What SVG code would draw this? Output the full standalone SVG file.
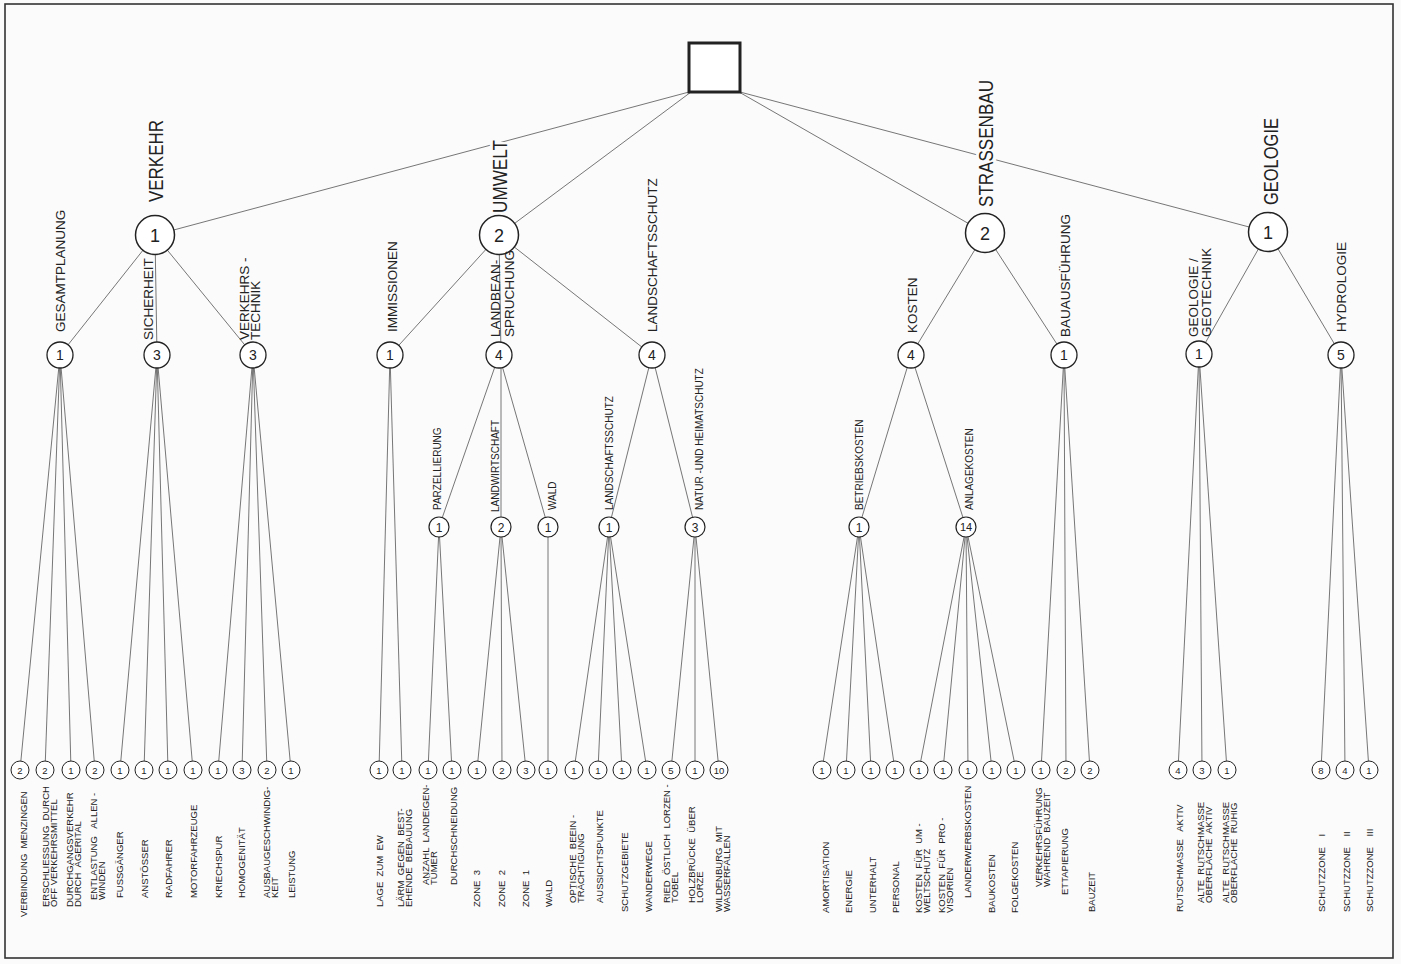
<svg xmlns="http://www.w3.org/2000/svg" width="1401" height="964" viewBox="0 0 1401 964">
<style>
.bg{fill:#fbfbfb}
.frame{fill:none;stroke:#333;stroke-width:1.6}
.root{fill:#fff;stroke:#222;stroke-width:3}
.ln{stroke:#666;stroke-width:0.9;fill:none}
.c1{fill:#fff;stroke:#222;stroke-width:1.5}
.c2{fill:#fff;stroke:#222;stroke-width:1.3}
.c3{fill:#fff;stroke:#222;stroke-width:1.2}
.c4{fill:#fff;stroke:#222;stroke-width:1}
text{font-family:"Liberation Sans",Arial,sans-serif;fill:#222}
.n1{font-size:18px;text-anchor:middle}
.n2{font-size:14px;text-anchor:middle}
.n3{font-size:12px;text-anchor:middle}
.n4{font-size:9.5px;text-anchor:middle}
.t1{font-size:21px;stroke:#fbfbfb;stroke-width:6;paint-order:stroke}
.t2{font-size:13.5px}
.t3{font-size:10px}
.t4{font-size:9.5px;white-space:pre}
</style>
<rect class="bg" x="0" y="0" width="1401" height="964"/>
<rect class="frame" x="5" y="4" width="1388" height="954"/>
<g id="connectors">
<line class="ln" x1="689" y1="92" x2="155" y2="235"/>
<line class="ln" x1="691" y1="92" x2="499" y2="235"/>
<line class="ln" x1="739" y1="92" x2="985" y2="233"/>
<line class="ln" x1="740" y1="92" x2="1268" y2="232"/>
<line class="ln" x1="155" y1="235" x2="60" y2="355"/>
<line class="ln" x1="155" y1="235" x2="157" y2="355"/>
<line class="ln" x1="155" y1="235" x2="253" y2="355"/>
<line class="ln" x1="499" y1="235" x2="390" y2="355"/>
<line class="ln" x1="499" y1="235" x2="501" y2="355"/>
<line class="ln" x1="499" y1="235" x2="652" y2="355"/>
<line class="ln" x1="985" y1="233" x2="911" y2="355"/>
<line class="ln" x1="985" y1="233" x2="1064" y2="355"/>
<line class="ln" x1="1268" y1="232" x2="1199" y2="354"/>
<line class="ln" x1="1268" y1="232" x2="1341" y2="355"/>
<line class="ln" x1="499" y1="355" x2="439" y2="527"/>
<line class="ln" x1="501" y1="355" x2="501" y2="527"/>
<line class="ln" x1="499" y1="355" x2="548" y2="527"/>
<line class="ln" x1="652" y1="355" x2="609" y2="527"/>
<line class="ln" x1="652" y1="355" x2="695" y2="527"/>
<line class="ln" x1="911" y1="355" x2="859" y2="527"/>
<line class="ln" x1="911" y1="355" x2="966" y2="527"/>
<line class="ln" x1="60" y1="355" x2="20" y2="770"/>
<line class="ln" x1="60" y1="355" x2="45" y2="770"/>
<line class="ln" x1="60" y1="355" x2="71" y2="770"/>
<line class="ln" x1="60" y1="355" x2="95" y2="770"/>
<line class="ln" x1="157" y1="355" x2="120" y2="770"/>
<line class="ln" x1="157" y1="355" x2="144" y2="770"/>
<line class="ln" x1="157" y1="355" x2="168" y2="770"/>
<line class="ln" x1="157" y1="355" x2="193" y2="770"/>
<line class="ln" x1="253" y1="355" x2="218" y2="770"/>
<line class="ln" x1="253" y1="355" x2="242" y2="770"/>
<line class="ln" x1="253" y1="355" x2="267" y2="770"/>
<line class="ln" x1="253" y1="355" x2="291" y2="770"/>
<line class="ln" x1="390" y1="355" x2="379" y2="770"/>
<line class="ln" x1="390" y1="355" x2="402" y2="770"/>
<line class="ln" x1="439" y1="527" x2="428" y2="770"/>
<line class="ln" x1="439" y1="527" x2="452" y2="770"/>
<line class="ln" x1="501" y1="527" x2="477" y2="770"/>
<line class="ln" x1="501" y1="527" x2="502" y2="770"/>
<line class="ln" x1="501" y1="527" x2="526" y2="770"/>
<line class="ln" x1="548" y1="527" x2="548" y2="770"/>
<line class="ln" x1="609" y1="527" x2="574" y2="770"/>
<line class="ln" x1="609" y1="527" x2="598" y2="770"/>
<line class="ln" x1="609" y1="527" x2="622" y2="770"/>
<line class="ln" x1="609" y1="527" x2="647" y2="770"/>
<line class="ln" x1="695" y1="527" x2="671" y2="770"/>
<line class="ln" x1="695" y1="527" x2="695" y2="770"/>
<line class="ln" x1="695" y1="527" x2="719" y2="770"/>
<line class="ln" x1="859" y1="527" x2="822" y2="770"/>
<line class="ln" x1="859" y1="527" x2="846" y2="770"/>
<line class="ln" x1="859" y1="527" x2="871" y2="770"/>
<line class="ln" x1="859" y1="527" x2="895" y2="770"/>
<line class="ln" x1="966" y1="527" x2="919" y2="770"/>
<line class="ln" x1="966" y1="527" x2="943" y2="770"/>
<line class="ln" x1="966" y1="527" x2="968" y2="770"/>
<line class="ln" x1="966" y1="527" x2="992" y2="770"/>
<line class="ln" x1="966" y1="527" x2="1016" y2="770"/>
<line class="ln" x1="1064" y1="355" x2="1041" y2="770"/>
<line class="ln" x1="1064" y1="355" x2="1066" y2="770"/>
<line class="ln" x1="1064" y1="355" x2="1090" y2="770"/>
<line class="ln" x1="1199" y1="354" x2="1178" y2="770"/>
<line class="ln" x1="1199" y1="354" x2="1202" y2="770"/>
<line class="ln" x1="1199" y1="354" x2="1227" y2="770"/>
<line class="ln" x1="1341" y1="355" x2="1321" y2="770"/>
<line class="ln" x1="1341" y1="355" x2="1345" y2="770"/>
<line class="ln" x1="1341" y1="355" x2="1369" y2="770"/>
</g>
<g id="root"><rect class="root" x="689" y="43" width="51" height="49"/></g>
<g id="verkehr"><circle class="c1" cx="155" cy="235" r="19.5"/><text class="n1" x="155" y="241.5">1</text><text class="t1" transform="translate(163,202) rotate(-90)" textLength="82" lengthAdjust="spacingAndGlyphs">VERKEHR</text></g>
<g id="umwelt"><text class="t1" transform="translate(507,213) rotate(-90)" textLength="73" lengthAdjust="spacingAndGlyphs">UMWELT</text><circle class="c1" cx="499" cy="235" r="19.5"/><text class="n1" x="499" y="241.5">2</text></g>
<g id="strassenbau"><text class="t1" transform="translate(993,207) rotate(-90)" textLength="127" lengthAdjust="spacingAndGlyphs">STRASSENBAU</text><circle class="c1" cx="985" cy="233" r="19.5"/><text class="n1" x="985" y="239.5">2</text></g>
<g id="geologie"><text class="t1" transform="translate(1278,205) rotate(-90)" textLength="87" lengthAdjust="spacingAndGlyphs">GEOLOGIE</text><circle class="c1" cx="1268" cy="232" r="19.5"/><text class="n1" x="1268" y="238.5">1</text></g>
<g id="gesamtplanung"><circle class="c2" cx="60" cy="355" r="13"/><text class="n2" x="60" y="360">1</text><text class="t2" transform="translate(65,332) rotate(-90)">GESAMTPLANUNG</text></g>
<g id="sicherheit"><circle class="c2" cx="157" cy="355" r="13"/><text class="n2" x="157" y="360">3</text><text class="t2" transform="translate(153,340) rotate(-90)">SICHERHEIT</text></g>
<g id="verkehrstechnik"><circle class="c2" cx="253" cy="355" r="13"/><text class="n2" x="253" y="360">3</text><text class="t2" transform="translate(249,340) rotate(-90)">VERKEHRS -<tspan x="0" dy="10.5">TECHNIK</tspan></text></g>
<g id="immissionen"><circle class="c2" cx="390" cy="355" r="13"/><text class="n2" x="390" y="360">1</text><text class="t2" transform="translate(397,332) rotate(-90)">IMMISSIONEN</text></g>
<g id="landbeanspruchung"><circle class="c2" cx="499" cy="355" r="13"/><text class="n2" x="499" y="360">4</text><text class="t2" transform="translate(499.5,337) rotate(-90)">LANDBEAN-<tspan x="0" dy="14">SPRUCHUNG</tspan></text></g>
<g id="landschaftsschutz"><circle class="c2" cx="652" cy="355" r="13"/><text class="n2" x="652" y="360">4</text><text class="t2" transform="translate(657,332) rotate(-90)">LANDSCHAFTSSCHUTZ</text></g>
<g id="kosten"><circle class="c2" cx="911" cy="355" r="13"/><text class="n2" x="911" y="360">4</text><text class="t2" transform="translate(917,333) rotate(-90)">KOSTEN</text></g>
<g id="bauausfuehrung"><circle class="c2" cx="1064" cy="355" r="13"/><text class="n2" x="1064" y="360">1</text><text class="t2" transform="translate(1070,337) rotate(-90)">BAUAUSFÜHRUNG</text></g>
<g id="geotechnik"><circle class="c2" cx="1199" cy="354" r="13"/><text class="n2" x="1199" y="359">1</text><text class="t2" transform="translate(1198,337) rotate(-90)">GEOLOGIE /<tspan x="0" dy="12.5">GEOTECHNIK</tspan></text></g>
<g id="hydrologie"><circle class="c2" cx="1341" cy="355" r="13"/><text class="n2" x="1341" y="360">5</text><text class="t2" transform="translate(1346,332) rotate(-90)">HYDROLOGIE</text></g>
<g id="parzellierung"><circle class="c3" cx="439" cy="527" r="10"/><text class="n3" x="439" y="531.5">1</text><text class="t3" transform="translate(441,510) rotate(-90)">PARZELLIERUNG</text></g>
<g id="landwirtschaft"><circle class="c3" cx="501" cy="527" r="10"/><text class="n3" x="501" y="531.5">2</text><text class="t3" transform="translate(499,512) rotate(-90)">LANDWIRTSCHAFT</text></g>
<g id="wald"><circle class="c3" cx="548" cy="527" r="10"/><text class="n3" x="548" y="531.5">1</text><text class="t3" transform="translate(556,510) rotate(-90)">WALD</text></g>
<g id="landschaftsschutz2"><circle class="c3" cx="609" cy="527" r="10"/><text class="n3" x="609" y="531.5">1</text><text class="t3" transform="translate(613,510) rotate(-90)">LANDSCHAFTSSCHUTZ</text></g>
<g id="naturschutz"><circle class="c3" cx="695" cy="527" r="10"/><text class="n3" x="695" y="531.5">3</text><text class="t3" transform="translate(703,510) rotate(-90)">NATUR -UND  HEIMATSCHUTZ</text></g>
<g id="betriebskosten"><circle class="c3" cx="859" cy="527" r="10"/><text class="n3" x="859" y="531.5">1</text><text class="t3" transform="translate(863,510) rotate(-90)">BETRIEBSKOSTEN</text></g>
<g id="anlagekosten"><circle class="c3" cx="966" cy="527" r="10"/><text class="n3" x="966" y="531" style="font-size:11px">14</text><text class="t3" transform="translate(973,510) rotate(-90)">ANLAGEKOSTEN</text></g>
<g id="leaf1"><circle class="c4" cx="20" cy="770" r="9"/><text class="n4" x="20" y="773.5">2</text><text class="t4" transform="translate(27,917) rotate(-90)">VERBINDUNG  MENZINGEN</text></g>
<g id="leaf2"><circle class="c4" cx="45" cy="770" r="9"/><text class="n4" x="45" y="773.5">2</text><text class="t4" transform="translate(49,907) rotate(-90)">ERSCHLIESSUNG  DURCH<tspan x="0" dy="8">ÖFF VERKEHRSMITTEL</tspan></text></g>
<g id="leaf3"><circle class="c4" cx="71" cy="770" r="9"/><text class="n4" x="71" y="773.5">1</text><text class="t4" transform="translate(73,907) rotate(-90)">DURCHGANGSVERKEHR<tspan x="0" dy="8">DURCH  ÄGERITAL</tspan></text></g>
<g id="leaf4"><circle class="c4" cx="95" cy="770" r="9"/><text class="n4" x="95" y="773.5">2</text><text class="t4" transform="translate(97,900) rotate(-90)">ENTLASTUNG   ALLEN -<tspan x="0" dy="8">WINDEN</tspan></text></g>
<g id="leaf5"><circle class="c4" cx="120" cy="770" r="9"/><text class="n4" x="120" y="773.5">1</text><text class="t4" transform="translate(123,898) rotate(-90)">FUSSGÄNGER</text></g>
<g id="leaf6"><circle class="c4" cx="144" cy="770" r="9"/><text class="n4" x="144" y="773.5">1</text><text class="t4" transform="translate(148,898) rotate(-90)">ANSTÖSSER</text></g>
<g id="leaf7"><circle class="c4" cx="168" cy="770" r="9"/><text class="n4" x="168" y="773.5">1</text><text class="t4" transform="translate(172,898) rotate(-90)">RADFAHRER</text></g>
<g id="leaf8"><circle class="c4" cx="193" cy="770" r="9"/><text class="n4" x="193" y="773.5">1</text><text class="t4" transform="translate(197,898) rotate(-90)">MOTORFAHRZEUGE</text></g>
<g id="leaf9"><circle class="c4" cx="218" cy="770" r="9"/><text class="n4" x="218" y="773.5">1</text><text class="t4" transform="translate(222,898) rotate(-90)">KRIECHSPUR</text></g>
<g id="leaf10"><circle class="c4" cx="242" cy="770" r="9"/><text class="n4" x="242" y="773.5">3</text><text class="t4" transform="translate(245,898) rotate(-90)">HOMOGENITÄT</text></g>
<g id="leaf11"><circle class="c4" cx="267" cy="770" r="9"/><text class="n4" x="267" y="773.5">2</text><text class="t4" transform="translate(270,898) rotate(-90)">AUSBAUGESCHWINDIG-<tspan x="0" dy="8">KEIT</tspan></text></g>
<g id="leaf12"><circle class="c4" cx="291" cy="770" r="9"/><text class="n4" x="291" y="773.5">1</text><text class="t4" transform="translate(295,898) rotate(-90)">LEISTUNG</text></g>
<g id="leaf13"><circle class="c4" cx="379" cy="770" r="9"/><text class="n4" x="379" y="773.5">1</text><text class="t4" transform="translate(383,907) rotate(-90)">LAGE  ZUM  EW</text></g>
<g id="leaf14"><circle class="c4" cx="402" cy="770" r="9"/><text class="n4" x="402" y="773.5">1</text><text class="t4" transform="translate(404,907) rotate(-90)">LÄRM  GEGEN  BEST-<tspan x="0" dy="8">EHENDE  BEBAUUNG</tspan></text></g>
<g id="leaf15"><circle class="c4" cx="428" cy="770" r="9"/><text class="n4" x="428" y="773.5">1</text><text class="t4" transform="translate(429,885) rotate(-90)">ANZAHL  LANDEIGEN-<tspan x="0" dy="8">TÜMER</tspan></text></g>
<g id="leaf16"><circle class="c4" cx="452" cy="770" r="9"/><text class="n4" x="452" y="773.5">1</text><text class="t4" transform="translate(457,885) rotate(-90)">DURCHSCHNEIDUNG</text></g>
<g id="leaf17"><circle class="c4" cx="477" cy="770" r="9"/><text class="n4" x="477" y="773.5">1</text><text class="t4" transform="translate(480,907) rotate(-90)">ZONE  3</text></g>
<g id="leaf18"><circle class="c4" cx="502" cy="770" r="9"/><text class="n4" x="502" y="773.5">2</text><text class="t4" transform="translate(505,907) rotate(-90)">ZONE  2</text></g>
<g id="leaf19"><circle class="c4" cx="526" cy="770" r="9"/><text class="n4" x="526" y="773.5">3</text><text class="t4" transform="translate(529,907) rotate(-90)">ZONE  1</text></g>
<g id="leaf20"><circle class="c4" cx="548" cy="770" r="9"/><text class="n4" x="548" y="773.5">1</text><text class="t4" transform="translate(552,907) rotate(-90)">WALD</text></g>
<g id="leaf21"><circle class="c4" cx="574" cy="770" r="9"/><text class="n4" x="574" y="773.5">1</text><text class="t4" transform="translate(576,903) rotate(-90)">OPTISCHE  BEEIN -<tspan x="0" dy="8">TRÄCHTIGUNG</tspan></text></g>
<g id="leaf22"><circle class="c4" cx="598" cy="770" r="9"/><text class="n4" x="598" y="773.5">1</text><text class="t4" transform="translate(603,903) rotate(-90)">AUSSICHTSPUNKTE</text></g>
<g id="leaf23"><circle class="c4" cx="622" cy="770" r="9"/><text class="n4" x="622" y="773.5">1</text><text class="t4" transform="translate(628,912) rotate(-90)">SCHUTZGEBIETE</text></g>
<g id="leaf24"><circle class="c4" cx="647" cy="770" r="9"/><text class="n4" x="647" y="773.5">1</text><text class="t4" transform="translate(652,912) rotate(-90)">WANDERWEGE</text></g>
<g id="leaf25"><circle class="c4" cx="671" cy="770" r="9"/><text class="n4" x="671" y="773.5">5</text><text class="t4" transform="translate(670,903) rotate(-90)">RIED  ÖSTLICH  LORZEN -<tspan x="0" dy="8">TOBEL</tspan></text></g>
<g id="leaf26"><circle class="c4" cx="695" cy="770" r="9"/><text class="n4" x="695" y="773.5">1</text><text class="t4" transform="translate(695,903) rotate(-90)">HOLZBRÜCKE  ÜBER<tspan x="0" dy="8">LORZE</tspan></text></g>
<g id="leaf27"><circle class="c4" cx="719" cy="770" r="9"/><text class="n4" x="719" y="773.5">10</text><text class="t4" transform="translate(722,912) rotate(-90)">WILDENBURG  MIT<tspan x="0" dy="8">WASSERFÄLLEN</tspan></text></g>
<g id="leaf28"><circle class="c4" cx="822" cy="770" r="9"/><text class="n4" x="822" y="773.5">1</text><text class="t4" transform="translate(829,913) rotate(-90)">AMORTISATION</text></g>
<g id="leaf29"><circle class="c4" cx="846" cy="770" r="9"/><text class="n4" x="846" y="773.5">1</text><text class="t4" transform="translate(852,913) rotate(-90)">ENERGIE</text></g>
<g id="leaf30"><circle class="c4" cx="871" cy="770" r="9"/><text class="n4" x="871" y="773.5">1</text><text class="t4" transform="translate(876,913) rotate(-90)">UNTERHALT</text></g>
<g id="leaf31"><circle class="c4" cx="895" cy="770" r="9"/><text class="n4" x="895" y="773.5">1</text><text class="t4" transform="translate(899,913) rotate(-90)">PERSONAL</text></g>
<g id="leaf32"><circle class="c4" cx="919" cy="770" r="9"/><text class="n4" x="919" y="773.5">1</text><text class="t4" transform="translate(922,913) rotate(-90)">KOSTEN  FÜR  UM -<tspan x="0" dy="8">WELTSCHUTZ</tspan></text></g>
<g id="leaf33"><circle class="c4" cx="943" cy="770" r="9"/><text class="n4" x="943" y="773.5">1</text><text class="t4" transform="translate(945,913) rotate(-90)">KOSTEN  FÜR  PRO -<tspan x="0" dy="8">VISORIEN</tspan></text></g>
<g id="leaf34"><circle class="c4" cx="968" cy="770" r="9"/><text class="n4" x="968" y="773.5">1</text><text class="t4" transform="translate(971,898) rotate(-90)">LANDERWERBSKOSTEN</text></g>
<g id="leaf35"><circle class="c4" cx="992" cy="770" r="9"/><text class="n4" x="992" y="773.5">1</text><text class="t4" transform="translate(995,913) rotate(-90)">BAUKOSTEN</text></g>
<g id="leaf36"><circle class="c4" cx="1016" cy="770" r="9"/><text class="n4" x="1016" y="773.5">1</text><text class="t4" transform="translate(1018,913) rotate(-90)">FOLGEKOSTEN</text></g>
<g id="leaf37"><circle class="c4" cx="1041" cy="770" r="9"/><text class="n4" x="1041" y="773.5">1</text><text class="t4" transform="translate(1042,887) rotate(-90)">VERKEHRSFÜHRUNG<tspan x="0" dy="8">WÄHREND  BAUZEIT</tspan></text></g>
<g id="leaf38"><circle class="c4" cx="1066" cy="770" r="9"/><text class="n4" x="1066" y="773.5">2</text><text class="t4" transform="translate(1068,895) rotate(-90)">ETTAPIERUNG</text></g>
<g id="leaf39"><circle class="c4" cx="1090" cy="770" r="9"/><text class="n4" x="1090" y="773.5">2</text><text class="t4" transform="translate(1095,912) rotate(-90)">BAUZEIT</text></g>
<g id="leaf40"><circle class="c4" cx="1178" cy="770" r="9"/><text class="n4" x="1178" y="773.5">4</text><text class="t4" transform="translate(1183,912) rotate(-90)">RUTSCHMASSE   AKTIV</text></g>
<g id="leaf41"><circle class="c4" cx="1202" cy="770" r="9"/><text class="n4" x="1202" y="773.5">3</text><text class="t4" transform="translate(1204,903) rotate(-90)">ALTE  RUTSCHMASSE<tspan x="0" dy="8">OBERFLÄCHE  AKTIV</tspan></text></g>
<g id="leaf42"><circle class="c4" cx="1227" cy="770" r="9"/><text class="n4" x="1227" y="773.5">1</text><text class="t4" transform="translate(1229,903) rotate(-90)">ALTE  RUTSCHMASSE<tspan x="0" dy="8">OBERFLÄCHE  RUHIG</tspan></text></g>
<g id="leaf43"><circle class="c4" cx="1321" cy="770" r="9"/><text class="n4" x="1321" y="773.5">8</text><text class="t4" transform="translate(1325,912) rotate(-90)">SCHUTZZONE    I</text></g>
<g id="leaf44"><circle class="c4" cx="1345" cy="770" r="9"/><text class="n4" x="1345" y="773.5">4</text><text class="t4" transform="translate(1350,912) rotate(-90)">SCHUTZZONE    II</text></g>
<g id="leaf45"><circle class="c4" cx="1369" cy="770" r="9"/><text class="n4" x="1369" y="773.5">1</text><text class="t4" transform="translate(1373,912) rotate(-90)">SCHUTZZONE    III</text></g>
</svg>
